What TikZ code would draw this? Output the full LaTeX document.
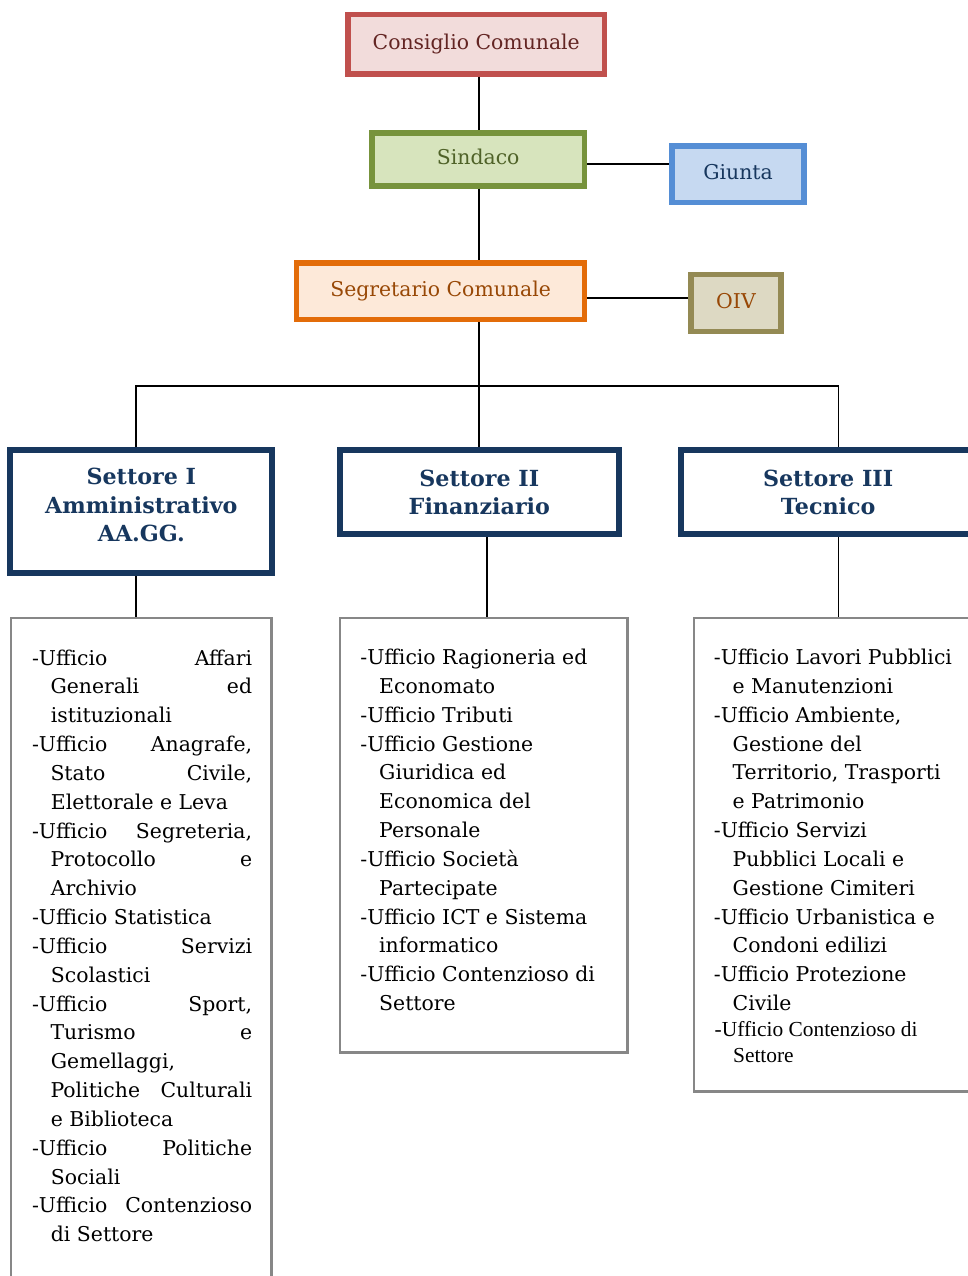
\documentclass[tikz,border=0pt]{standalone}
\usepackage{fontspec}
\setmainfont{DejaVu Serif}
\newfontfamily\timesf{Liberation Serif}
\definecolor{redB}{HTML}{C0504D}
\definecolor{redF}{HTML}{F2DCDB}
\definecolor{redT}{HTML}{632523}
\definecolor{grnB}{HTML}{77933C}
\definecolor{grnF}{HTML}{D7E4BD}
\definecolor{grnT}{HTML}{4F6228}
\definecolor{bluB}{HTML}{558ED5}
\definecolor{bluF}{HTML}{C6D9F1}
\definecolor{bluT}{HTML}{17375E}
\definecolor{orgB}{HTML}{E36C09}
\definecolor{orgF}{HTML}{FDE9D9}
\definecolor{orgT}{HTML}{984806}
\definecolor{oliB}{HTML}{948A54}
\definecolor{oliF}{HTML}{DDD9C3}
\definecolor{navyB}{HTML}{17375E}
\definecolor{grayB}{HTML}{878787}
\newcommand{\jfirst}[1]{\makebox[110pt][s]{#1}}
\newcommand{\jcont}[1]{\hspace*{9.2pt}\makebox[100.8pt][s]{#1}}
\newcommand{\lcont}[1]{\hspace*{9.4pt}#1}
\begin{document}
\begin{tikzpicture}[x=0.5pt,y=-0.5pt,
  topbox/.style={draw, line width=2.75pt, inner sep=0pt, text height=7.6pt, text depth=2.4pt, font=\fontsize{10.2}{12}\selectfont},
  settbox/.style={draw=navyB, line width=3pt, fill=white, inner sep=0pt, align=center, text=navyB, font=\bfseries\fontsize{11.1}{14.2}\selectfont},
  listbox/.style={draw=grayB, line width=1.35pt, fill=white, inner sep=0pt},
  listtext/.style={anchor=base west, inner sep=0pt, align=left, font=\fontsize{10.2}{14.42}\selectfont},
  conn/.style={draw=black, line width=0.8pt}]
\fill[white] (0,0) rectangle (968,1276);
\useasboundingbox (0,0) rectangle (968,1276);
\clip (0,0) rectangle (968,1276);

% top boxes
\node[topbox, draw=redB, fill=redF, text=redT, minimum width=128.4pt, minimum height=29.75pt] (cons) at (476.25,44.2) {Consiglio Comunale};
\node[topbox, draw=grnB, fill=grnF, text=grnT, minimum width=106.45pt, minimum height=26.6pt] (sind) at (478.2,159.35) {Sindaco};
\node[topbox, draw=bluB, fill=bluF, text=bluT, minimum width=65.95pt, minimum height=28.25pt] (giunta) at (738.1,174.3) {Giunta};
\node[topbox, draw=orgB, fill=orgF, text=orgT, minimum width=144.05pt, minimum height=28.25pt] (segr) at (440.6,291.3) {Segretario Comunale};
\node[topbox, draw=oliB, fill=oliF, text=orgT, minimum width=44.85pt, minimum height=28.55pt] (oiv) at (736,303) {OIV};

% settori
\node[settbox, minimum width=131pt, minimum height=61.35pt] (s1) at (141.3,511.65) {Settore I\\Amministrativo\\AA.GG.\rule[-6.75pt]{0pt}{6.75pt}};
\node[settbox, minimum width=139.65pt, minimum height=42pt] (s2) at (479.35,492.3) {Settore II\\Finanziario};
\node[settbox, minimum width=146.85pt, minimum height=42pt] (s3) at (828.15,492.3) {Settore III\\Tecnico};

% list boxes
\node[listbox, minimum width=130.15pt, minimum height=340.3pt] (box1) at (141,958.35) {};
\node[listbox, minimum width=143.65pt, minimum height=217.3pt] (box2) at (483.5,835.35) {};
\node[listbox, minimum width=142.4pt, minimum height=236.8pt] (box3) at (836.25,854.85) {};

% connectors
\coordinate (sp) at (479,386);
\coordinate (b1) at (135.7,386);
\coordinate (b3) at (838.3,386);
\coordinate (gy) at (620,164);
\coordinate (oy) at (640,297.7);
\coordinate (l2) at (486.7,580);
\draw[conn] (cons.south -| sp) -- (sind.north -| sp);
\draw[conn] (sind.south -| sp) -- (segr.north -| sp);
\draw[conn] (sind.east |- gy) -- (giunta.west |- gy);
\draw[conn] (segr.east |- oy) -- (oiv.west |- oy);
\draw[conn] (segr.south -| sp) -- (sp);
\draw[conn] (s1.north -| b1) -- (b1) -- (b3) -- (s3.north -| b3);
\draw[conn] (sp) -- (s2.north -| sp);
\draw[conn] (s1.south -| b1) -- (box1.north -| b1);
\draw[conn] (s2.south -| l2) -- (box2.north -| l2);
\draw[conn] (s3.south -| b3) -- (box3.north -| b3);

% list texts (anchor = baseline of the last line)
\node[listtext] (t1) at (31.7,1241.8) {%
\jfirst{-Ufficio Affari}\\
\jcont{Generali ed}\\
\lcont{istituzionali}\\
\jfirst{-Ufficio Anagrafe,}\\
\jcont{Stato Civile,}\\
\lcont{Elettorale e Leva}\\
\jfirst{-Ufficio Segreteria,}\\
\jcont{Protocollo e}\\
\lcont{Archivio}\\
-Ufficio Statistica\\
\jfirst{-Ufficio Servizi}\\
\lcont{Scolastici}\\
\jfirst{-Ufficio Sport,}\\
\jcont{Turismo e}\\
\lcont{Gemellaggi,}\\
\jcont{Politiche Culturali}\\
\lcont{e Biblioteca}\\
\jfirst{-Ufficio Politiche}\\
\lcont{Sociali}\\
\jfirst{-Ufficio Contenzioso}\\
\lcont{di Settore}};

\node[listtext] (t2) at (360,1010.6) {%
-Ufficio Ragioneria ed\\
\lcont{Economato}\\
-Ufficio Tributi\\
-Ufficio Gestione\\
\lcont{Giuridica ed}\\
\lcont{Economica del}\\
\lcont{Personale}\\
-Ufficio Società\\
\lcont{Partecipate}\\
-Ufficio ICT e Sistema\\
\lcont{informatico}\\
-Ufficio Contenzioso di\\
\lcont{Settore}};

\node[listtext] (t3) at (713.5,1010.6) {%
-Ufficio Lavori Pubblici\\
\lcont{e Manutenzioni}\\
-Ufficio Ambiente,\\
\lcont{Gestione del}\\
\lcont{Territorio, Trasporti}\\
\lcont{e Patrimonio}\\
-Ufficio Servizi\\
\lcont{Pubblici Locali e}\\
\lcont{Gestione Cimiteri}\\
-Ufficio Urbanistica e\\
\lcont{Condoni edilizi}\\
-Ufficio Protezione\\
\lcont{Civile}};

\node[listtext, font={\timesf\fontsize{10.7}{12.8}\selectfont}] (t3b) at (714.3,1062.3) {%
-Ufficio Contenzioso di\\
\hspace*{9.2pt}Settore};
\end{tikzpicture}
\end{document}
